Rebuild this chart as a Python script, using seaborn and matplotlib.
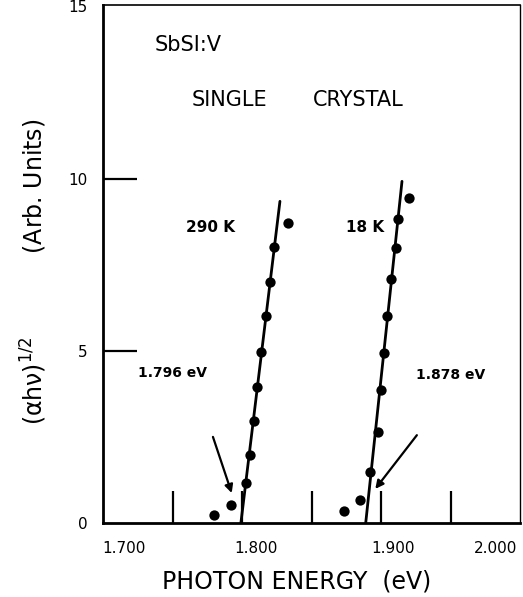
import matplotlib
matplotlib.use("Agg")
import matplotlib.pyplot as plt
import matplotlib.transforms as mtransforms
import seaborn as sns
import pandas as pd

# ---- data ----
energy_290K = [1.7798, 1.7924, 1.8028, 1.8054, 1.8083, 1.8109, 1.8135, 1.8173, 1.8204, 1.8227, 1.8332]
absorb_290K = [0.23, 0.52, 1.15, 1.98, 2.97, 3.96, 4.96, 6.00, 7.00, 8.00, 8.71]
energy_18K = [1.8731, 1.8850, 1.8921, 1.8978, 1.9001, 1.9025, 1.9044, 1.9075, 1.9108, 1.9120, 1.9199]
absorb_18K = [0.34, 0.68, 1.48, 2.63, 3.87, 4.93, 6.02, 7.07, 7.99, 8.83, 9.45]
fit_290K_x = [1.7992, 1.8273]
fit_290K_y = [0.0, 9.34]
fit_18K_x = [1.8890, 1.9151]
fit_18K_y = [0.0, 9.92]
xtick_vals = [1.700, 1.800, 1.900, 2.000]
xtick_labels = ["1.700", "1.800", "1.900", "2.000"]
xminor_vals = [1.750, 1.850, 1.950]
ytick_vals = [0, 5, 10, 15]
ytick_labels = ["0", "5", "10", "15"]

sns.set_style("ticks")
plt.rcParams["font.family"] = ["DejaVu Sans"]
plt.rcParams["text.color"] = "black"
plt.rcParams["axes.labelcolor"] = "black"
plt.rcParams["xtick.color"] = "black"
plt.rcParams["ytick.color"] = "black"
plt.rcParams["axes.edgecolor"] = "black"

fig = plt.figure(figsize=(5.23, 5.97), dpi=100)
ax = fig.add_axes([103 / 523, (597 - 523) / 597, 417 / 523, 518 / 597])

pts = pd.concat([
    pd.DataFrame({"E": energy_290K, "A": absorb_290K, "T": "290 K"}),
    pd.DataFrame({"E": energy_18K, "A": absorb_18K, "T": "18 K"}),
])
fits = pd.concat([
    pd.DataFrame({"E": fit_290K_x, "A": fit_290K_y, "T": "290 K"}),
    pd.DataFrame({"E": fit_18K_x, "A": fit_18K_y, "T": "18 K"}),
])

sns.lineplot(data=fits, x="E", y="A", units="T", estimator=None, color="black",
             lw=2.0, ax=ax, legend=False, sort=False)
sns.scatterplot(data=pts, x="E", y="A", color="black", s=55, edgecolor="black",
                linewidth=0, ax=ax, legend=False, zorder=3)

ax.set_xlim(1.700, 1.997)
ax.set_ylim(0, 15.04)

ax.set_xticks(xtick_vals)
ax.set_xticklabels(xtick_labels)
ax.set_xticks(xminor_vals, minor=True)
ax.set_yticks(ytick_vals)
ax.set_yticklabels(ytick_labels)
ax.tick_params(axis="x", which="both", direction="in", length=23, width=1.6,
               pad=13, labelsize=11, color="black", labelcolor="black",
               bottom=True, top=False)
ax.tick_params(axis="y", which="both", direction="in", length=24.5, width=1.6,
               pad=11, labelsize=11, color="black", labelcolor="black",
               left=True, right=False)

for side, lw in [("left", 2.0), ("bottom", 2.0), ("top", 1.2), ("right", 1.0)]:
    ax.spines[side].set_visible(True)
    ax.spines[side].set_linewidth(lw)
    ax.spines[side].set_color("black")

ax.set_xlabel("PHOTON ENERGY  (eV)", fontsize=17, labelpad=4, color="black")
ax.set_ylabel("(\u03b1h\u03bd)$^{1/2}$           (Arb. Units)", fontsize=17, color="black")
ax.yaxis.set_label_coords(-0.13, 0.485)
ax.xaxis.set_label_coords(0.465, -0.09)

# text annotations
ax.text(1.737, 13.87, "SbSI:V", fontsize=15, va="center", ha="left")
ax.text(1.7912, 12.28, "SINGLE", fontsize=15, va="center", ha="center")
ax.text(1.8838, 12.28, "CRYSTAL", fontsize=15, va="center", ha="center")
ax.text(1.7598, 8.59, "290 K", fontsize=11, fontweight="bold", va="center", ha="left")
ax.text(1.8745, 8.59, "18 K", fontsize=11, fontweight="bold", va="center", ha="left")
ax.text(1.7249, 4.35, "1.796 eV", fontsize=10, fontweight="bold", va="center", ha="left")
ax.text(1.9251, 4.30, "1.878 eV", fontsize=10, fontweight="bold", va="center", ha="left")

arrow = dict(arrowstyle="-|>", color="black", lw=1.6, mutation_scale=12,
             shrinkA=0, shrinkB=0)
ax.annotate("", xy=(1.7926, 0.87), xytext=(1.7791, 2.50), arrowprops=arrow)
ax.annotate("", xy=(1.8959, 0.99), xytext=(1.9258, 2.55), arrowprops=arrow)

# shift x tick labels like the hand-lettered original; hide tick marks on the frame edges
fig.canvas.draw()
offsets_px = [21, 14, 12, -24]
for lab, dx in zip(ax.get_xticklabels(), offsets_px):
    lab.set_transform(lab.get_transform() +
                      mtransforms.ScaledTranslation(dx / 100, 0, fig.dpi_scale_trans))
xt = ax.xaxis.get_major_ticks()
xt[0].tick1line.set_visible(False)
xt[-1].tick1line.set_visible(False)
yt = ax.yaxis.get_major_ticks()
yt[0].tick1line.set_visible(False)
yt[-1].tick1line.set_visible(False)

fig.savefig("out.png", dpi=100)
